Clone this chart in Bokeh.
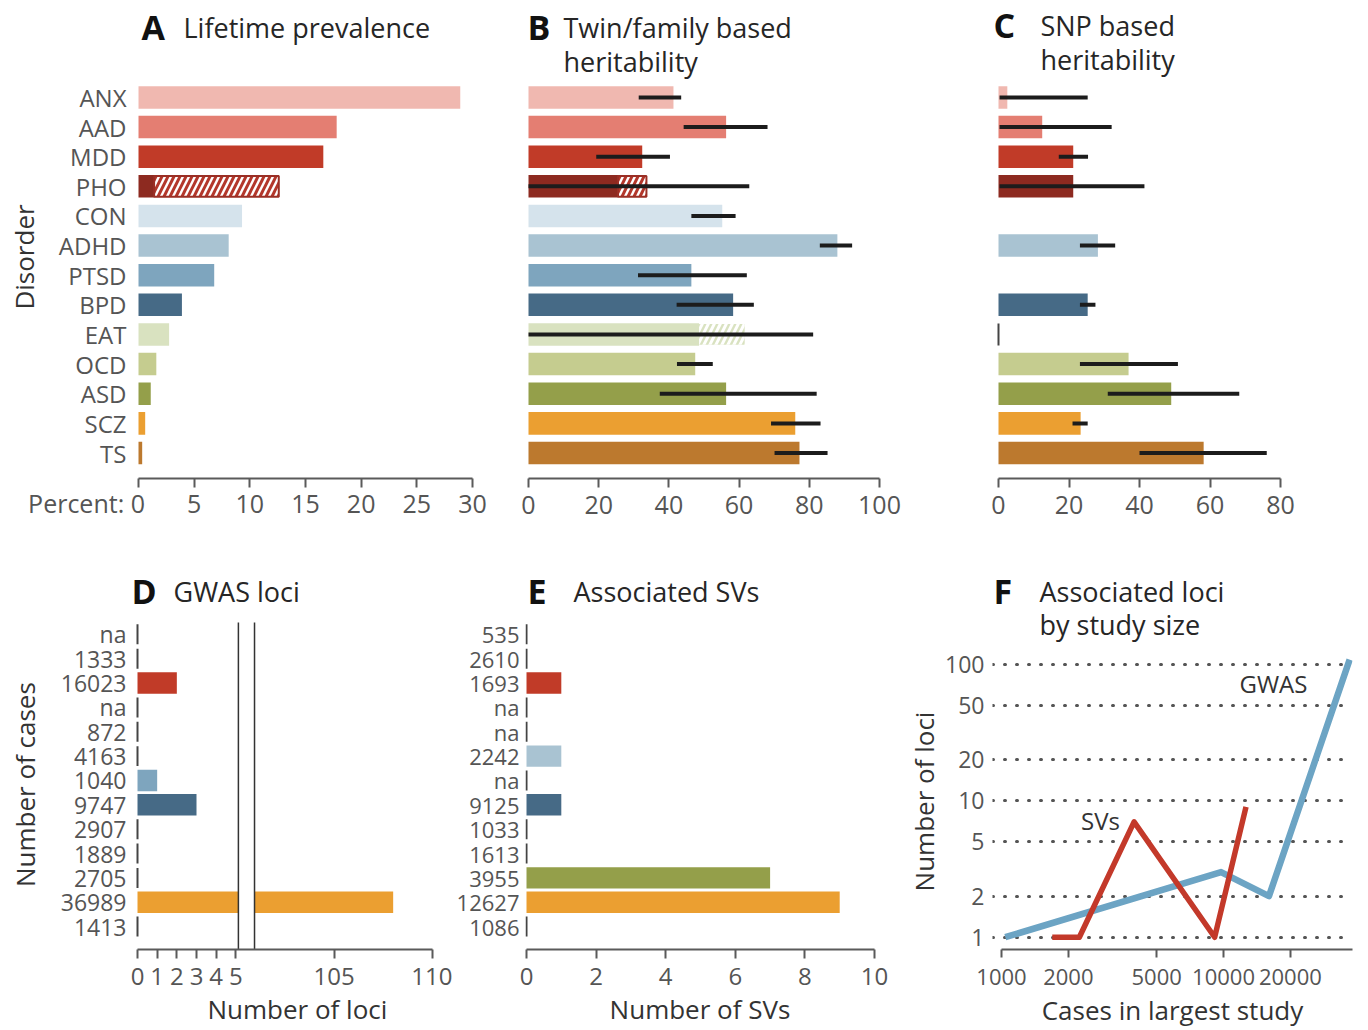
import math
from bokeh.plotting import figure
from bokeh.layouts import row, column
from bokeh.models import Range1d, FixedTicker, PrintfTickFormatter
from bokeh.embed import file_html
from bokeh.resources import INLINE
from bokeh.core.properties import value

FONT = "Open Sans"
AX = "#5a5a5a"
TXT = "#555555"
DARK = "#262626"
ERR = "#1c1c1c"
NB = "\u00a0"

# ---------------- data ----------------
disorders = ["ANX", "AAD", "MDD", "PHO", "CON", "ADHD", "PTSD", "BPD", "EAT", "OCD", "ASD", "SCZ", "TS"]
disorder_colors = ["#f0b8b0", "#e47e72", "#c13b28", "#8d2a20", "#d5e3ec", "#a9c3d2", "#7ea5be",
                   "#466a86", "#d9e2c0", "#c5cc8f", "#949f4a", "#eb9f31", "#bc792e"]

prevalence = [28.9, 17.8, 16.6, 1.4, 9.3, 8.1, 6.8, 3.9, 2.75, 1.6, 1.1, 0.6, 0.33]
prevalence_upper = [None, None, None, 12.6, None, None, None, None, None, None, None, None, None]

twin_h2 = [41.3, 56.3, 32.4, 25.5, 55.2, 88.0, 46.4, 58.3, 48.6, 47.5, 56.3, 76.0, 77.2]
twin_h2_upper = [None, None, None, 33.6, None, None, None, None, 61.6, None, None, None, None]
twin_ci_low = [31.4, 44.2, 19.3, 0.0, 46.4, 83.0, 31.2, 42.2, 0.0, 42.3, 37.4, 69.1, 70.1]
twin_ci_high = [43.5, 68.1, 40.3, 62.9, 59.0, 92.2, 62.2, 64.2, 81.1, 52.5, 82.1, 83.2, 85.2]

snp_h2 = [2.5, 12.4, 21.2, 21.2, None, 28.2, None, 25.3, 0.0, 36.9, 49.0, 23.3, 58.2]
snp_ci_low = [0.3, 0.3, 17.1, 0.3, None, 23.1, None, 23.1, None, 23.1, 31.0, 21.0, 40.0]
snp_ci_high = [25.3, 32.1, 25.4, 41.4, None, 33.1, None, 27.5, None, 50.9, 68.3, 25.3, 76.1]

gwas_cases = ["na", "1333", "16023", "na", "872", "4163", "1040", "9747", "2907", "1889", "2705", "36989", "1413"]
gwas_loci = [0, 0, 2, 0, 0, 0, 1, 3, 0, 0, 0, 108, 0]
sv_cases = ["535", "2610", "1693", "na", "na", "2242", "na", "9125", "1033", "1613", "3955", "12627", "1086"]
sv_counts = [0, 0, 1, 0, 0, 1, 0, 1, 0, 0, 7, 9, 0]

percent_ticks = [0, 5, 10, 15, 20, 25, 30]
twin_ticks = [0, 20, 40, 60, 80, 100]
snp_ticks = [0, 20, 40, 60, 80]
loci_ticks = [0, 1, 2, 3, 4, 5, 105, 110]
sv_ticks = [0, 2, 4, 6, 8, 10]
study_ticks = [1000, 2000, 5000, 10000, 20000]
loci_log_ticks = [1, 2, 5, 10, 20, 50, 100]

rows = list(range(len(disorders)))

# hatch styling for the uncertain (hatched) bar extensions: (fill, stripes, outline)
hatch_style = {3: ("white", "#b3372b", "#9a2f25"), 8: ("#d9e2c0", "white", None)}


# ---------------- helpers ----------------
def make_panel(box, frame, x_range, y_range, x_type="linear", y_type="linear"):
    fl, ft, fr, fb = box
    l, t, r, b = frame
    p = figure(width=fr - fl, height=fb - ft, x_range=x_range, y_range=y_range,
               x_axis_type=x_type, y_axis_type=y_type,
               output_backend="svg", toolbar_location=None,
               min_border_left=l - fl, min_border_right=fr - r,
               min_border_top=t - ft, min_border_bottom=fb - b)
    p.outline_line_color = None
    p.background_fill_color = "white"
    p.border_fill_color = "white"
    p.xgrid.visible = False
    p.ygrid.visible = False
    return p


def axis_title(ax, text, standoff):
    ax.axis_label = text
    ax.axis_label_text_font = FONT
    ax.axis_label_text_font_size = "26px"
    ax.axis_label_text_font_style = "normal"
    ax.axis_label_text_color = "#333333"
    ax.axis_label_standoff = standoff


def style_xaxis(p, ticks, bounds, overrides=None, standoff=8, tick_out=9, size="24px",
                label=None, label_standoff=3):
    ax = p.xaxis[0]
    ax.ticker = FixedTicker(ticks=ticks)
    ax.bounds = bounds
    ax.axis_line_color = AX
    ax.axis_line_width = 2
    ax.major_tick_line_color = AX
    ax.major_tick_line_width = 2
    ax.major_tick_out = tick_out
    ax.major_tick_in = 0
    ax.minor_tick_line_color = None
    ax.major_label_text_font = FONT
    ax.major_label_text_font_size = size
    ax.major_label_text_color = TXT
    ax.major_label_standoff = standoff
    if overrides:
        ax.major_label_overrides = overrides
    if label:
        axis_title(ax, label, label_standoff)


def style_yaxis(p, labels, standoff=10, size="24px", label=None, label_standoff=20):
    ax = p.yaxis[0]
    ax.ticker = FixedTicker(ticks=rows)
    ax.major_label_overrides = {i: lab for i, lab in enumerate(labels)}
    ax.axis_line_color = None
    ax.major_tick_line_color = None
    ax.major_tick_out = 0
    ax.major_tick_in = 0
    ax.minor_tick_line_color = None
    ax.major_label_text_font = FONT
    ax.major_label_text_font_size = size
    ax.major_label_text_color = TXT
    ax.major_label_standoff = standoff
    if label:
        axis_title(ax, label, label_standoff)


def add_title(p, letter, letter_x, text_x, y_lines, lines):
    p.text(x=[letter_x], y=[y_lines[0]], text=[letter], text_font=value(FONT),
           text_font_size=value("34px"), text_font_style="bold", text_color="#111111",
           text_align="left", text_baseline="middle")
    p.text(x=[text_x] * len(lines), y=y_lines, text=lines, text_font=value(FONT),
           text_font_size=value("27px"), text_color=DARK,
           text_align="left", text_baseline="middle")


def solid_bars(p, values, height):
    idx = [i for i, v in enumerate(values) if v is not None and v > 0]
    p.hbar(y=idx, left=0, right=[values[i] for i in idx], height=height,
           fill_color=[disorder_colors[i] for i in idx], line_color=None)


def hatched_bars(p, start, upper, height):
    for i, v in enumerate(upper):
        if v is None:
            continue
        fill, stripes, outline = hatch_style[i]
        p.hbar(y=[i], left=[start[i]], right=[v], height=height,
               fill_color=fill, line_color=outline, line_width=2,
               hatch_pattern=value("right_diagonal_line"), hatch_color=stripes,
               hatch_weight=3, hatch_scale=12)


def error_bars(p, lo, hi):
    idx = [i for i, v in enumerate(lo) if v is not None]
    p.segment(x0=[lo[i] for i in idx], x1=[hi[i] for i in idx], y0=idx, y1=idx,
              line_color=ERR, line_width=4)


def zero_marks(p, values, half):
    idx = [i for i, v in enumerate(values) if v is not None and v == 0]
    p.segment(x0=[0] * len(idx), x1=[0] * len(idx),
              y0=[i - half for i in idx], y1=[i + half for i in idx],
              line_color="#444444", line_width=2)


ROW1_Y = (12.86, -3.0)

# ---------------- Panel A ----------------
pA = make_panel((0, 0, 500, 536), (136, 8, 472, 478), Range1d(-0.18, 30), Range1d(*ROW1_Y))
solid_bars(pA, prevalence, 0.76)
hatched_bars(pA, prevalence, prevalence_upper, 0.70)
style_xaxis(pA, percent_ticks, (0, 30), size="25px", standoff=-2,
            overrides={0: "Percent:" + NB + "0" + NB * 16})
style_yaxis(pA, disorders, label="Disorder" + NB * 4, label_standoff=14)
add_title(pA, "A", 0.27, 4.04, [-2.36], ["Lifetime prevalence"])

# ---------------- Panel B ----------------
pB = make_panel((500, 0, 960, 536), (526, 8, 879, 478), Range1d(-0.57, 100), Range1d(*ROW1_Y))
solid_bars(pB, twin_h2, 0.76)
hatched_bars(pB, twin_h2, twin_h2_upper, 0.70)
error_bars(pB, twin_ci_low, twin_ci_high)
style_xaxis(pB, twin_ticks, (0, 100), size="25px")
pB.yaxis.visible = False
add_title(pB, "B", -0.28, 9.97, [-2.36, -1.215], ["Twin/family based", "heritability"])

# ---------------- Panel C ----------------
pC = make_panel((960, 0, 1360, 536), (990, 8, 1280, 478), Range1d(-2.27, 80), Range1d(*ROW1_Y))
zero_marks(pC, snp_h2, 0.37)
solid_bars(pC, snp_h2, 0.76)
error_bars(pC, snp_ci_low, snp_ci_high)
style_xaxis(pC, snp_ticks, (0, 80), size="25px")
pC.yaxis.visible = False
add_title(pC, "C", -1.42, 11.9, [-2.43, -1.28], ["SNP based", "heritability"])


# ---------------- Panel D (broken axis) ----------------
def broken(v):
    return v if v <= 5.5 else v - 95


D_Y = (12.94, -2.54)
pD = make_panel((0, 536, 452, 1030), (128, 572, 432, 950), Range1d(-0.458, 15), Range1d(*D_Y))
zero_marks(pD, gwas_loci, 0.41)
d_idx = [i for i, v in enumerate(gwas_loci) if v > 0]
pD.hbar(y=d_idx, left=0, right=[broken(gwas_loci[i]) for i in d_idx], height=0.88,
        fill_color=[disorder_colors[i] for i in d_idx], line_color=None)
gap_lo, gap_hi, rows_top = 5.13, 5.95, -0.49
pD.quad(left=gap_lo, right=gap_hi, bottom=D_Y[0], top=rows_top, fill_color="white", line_color=None)
pD.segment(x0=[gap_lo, gap_hi], x1=[gap_lo, gap_hi], y0=[rows_top] * 2, y1=[D_Y[0]] * 2,
           line_color="#333333", line_width=1.5)
style_xaxis(pD, [broken(t) for t in loci_ticks], (0, 15),
            overrides={broken(t): str(t) for t in loci_ticks}, standoff=9,
            label=NB * 5 + "Number of loci", label_standoff=3)
style_yaxis(pD, gwas_cases, standoff=2, size="23px",
            label="Number of cases" + NB * 7, label_standoff=15)
add_title(pD, "D", -0.305, 1.83, [-1.761], ["GWAS loci"])

# ---------------- Panel E ----------------
pE = make_panel((452, 536, 895, 1030), (525, 572, 874, 950), Range1d(-0.029, 10), Range1d(*D_Y))
zero_marks(pE, sv_counts, 0.41)
e_idx = [i for i, v in enumerate(sv_counts) if v > 0]
pE.hbar(y=e_idx, left=0, right=[sv_counts[i] for i in e_idx], height=0.88,
        fill_color=[disorder_colors[i] for i in e_idx], line_color=None)
style_xaxis(pE, sv_ticks, (0, 10), standoff=9, label="Number of SVs", label_standoff=3)
style_yaxis(pE, sv_cases, standoff=6, size="22px")
add_title(pE, "E", 0.03, 1.35, [-1.761], ["Associated SVs"])

# ---------------- Panel F ----------------
pF = make_panel((895, 536, 1360, 1030), (992, 572, 1352, 950), Range1d(911, 38100), Range1d(0.813, 469),
                x_type="log", y_type="log")
pF.ygrid.visible = True
pF.ygrid.ticker = FixedTicker(ticks=loci_log_ticks)
pF.ygrid.grid_line_color = "#555555"
pF.ygrid.grid_line_width = 3
pF.ygrid.grid_line_dash = "1 11"
pF.ygrid.grid_line_cap = "round"

gw = sorted((int(c), n) for c, n in zip(gwas_cases, gwas_loci) if n > 0)
sv = sorted((int(c), n) for c, n in zip(sv_cases, sv_counts) if n > 0)
pF.line([c for c, _ in gw], [n for _, n in gw], line_color="#6ca4c4", line_width=6.5, line_join="round")
pF.line([c for c, _ in sv], [n for _, n in sv], line_color="#c3392a", line_width=5.5, line_join="round")

style_xaxis(pF, study_ticks, (1000, 38100), standoff=11, tick_out=8, size="22px",
            label="Cases in largest study", label_standoff=4)
pF.xaxis[0].formatter = PrintfTickFormatter(format="%d")
ay = pF.yaxis[0]
ay.ticker = FixedTicker(ticks=loci_log_ticks)
ay.formatter = PrintfTickFormatter(format="%d")
ay.axis_line_color = None
ay.major_tick_line_color = None
ay.major_tick_out = 0
ay.major_tick_in = 0
ay.minor_tick_line_color = None
ay.major_label_text_font = FONT
ay.major_label_text_font_size = "23px"
ay.major_label_text_color = TXT
ay.major_label_standoff = 8
axis_title(ay, "Number of loci" + NB * 12, 0)

pF.text(x=[16790, 2793], y=[72, 7.2], text=["GWAS", "SVs"], text_font=value(FONT),
        text_font_size=value("24px"), text_color="#333333", text_align="center", text_baseline="middle")
add_title(pF, "F", 920, 1483, [340.8, 195.6], ["Associated loci", "by study size"])

layout = column(row(pA, pB, pC), row(pD, pE, pF))
open("out.html", "w").write(file_html(layout, INLINE))
